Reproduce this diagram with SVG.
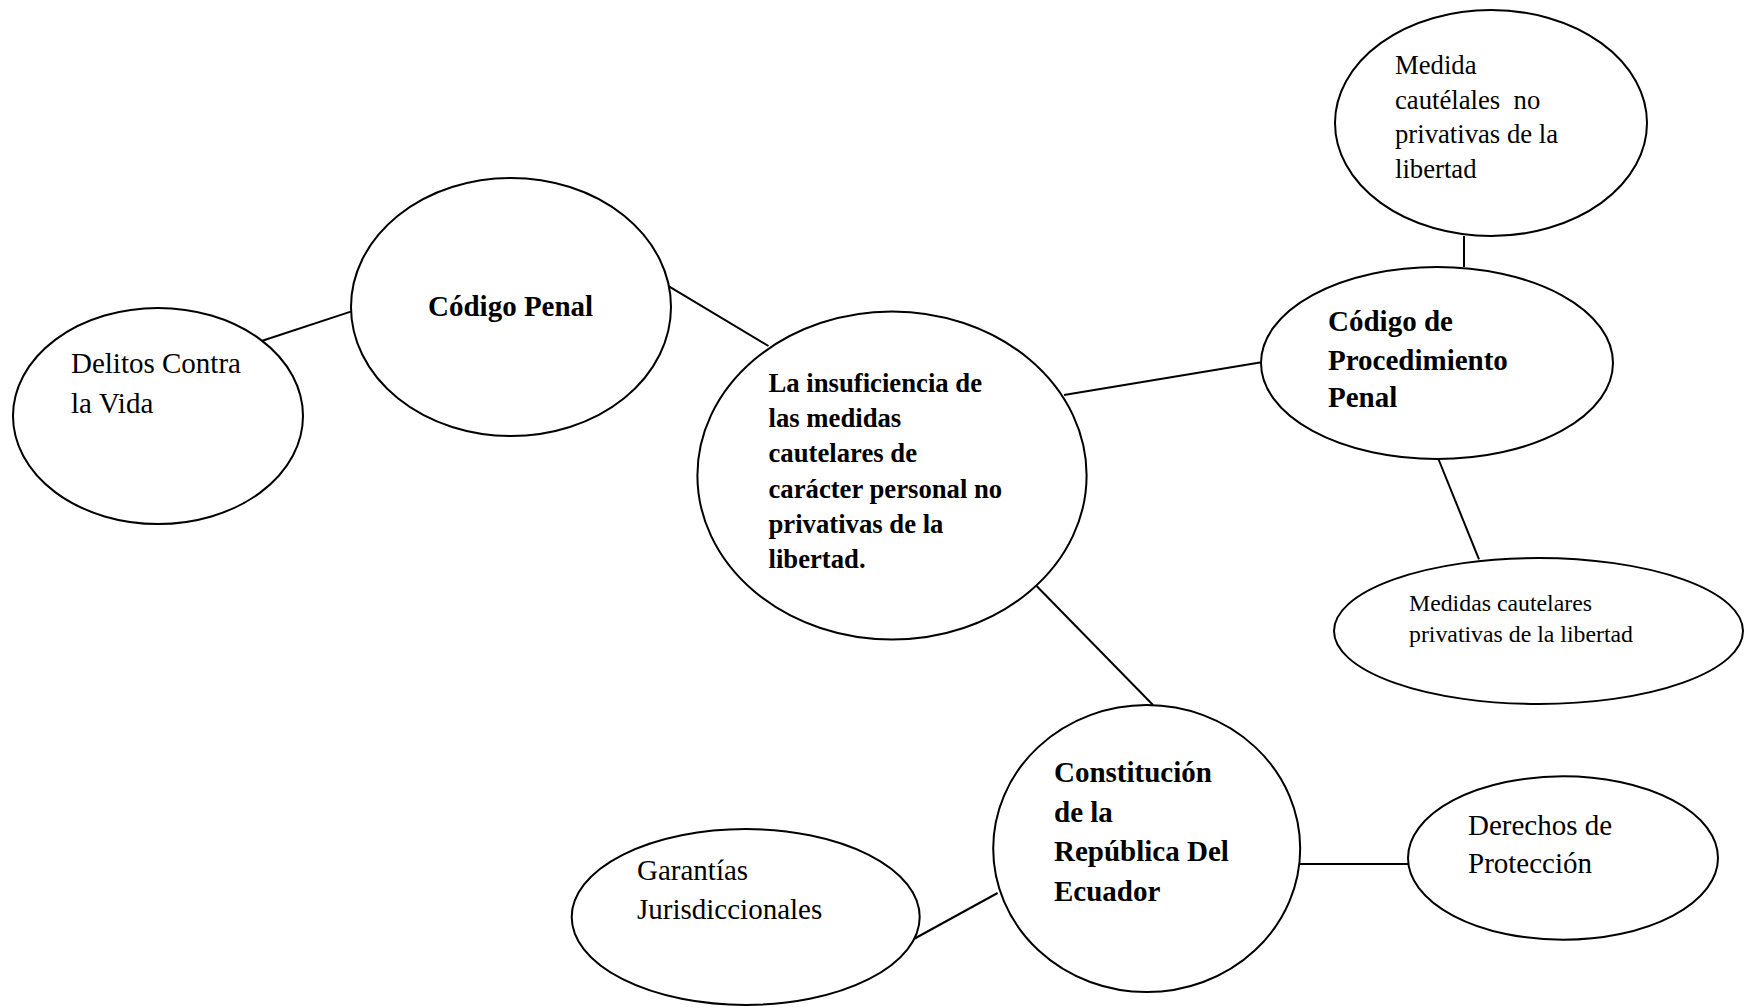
<svg xmlns="http://www.w3.org/2000/svg" width="1744" height="1007" viewBox="0 0 1744 1007">
<style>
.n{fill:#fff;stroke:#000;stroke-width:2}
.c line{stroke:#000;stroke-width:2}
text{font-family:"Liberation Serif","Times New Roman",serif;fill:#000}
.b{font-weight:bold}
</style>
<rect width="1744" height="1007" fill="#fff"/>
<g id="connectors" class="c">
<line x1="260" y1="341.5" x2="351.5" y2="311.4"/>
<line x1="666" y1="284.7" x2="768.5" y2="346"/>
<line x1="1064" y1="395" x2="1260" y2="362.6"/>
<line x1="1464" y1="236" x2="1464" y2="267"/>
<line x1="1438" y1="458" x2="1479" y2="559.4"/>
<line x1="1036.6" y1="586" x2="1153" y2="705"/>
<line x1="997.6" y1="893" x2="912" y2="940"/>
<line x1="1300" y1="864" x2="1408" y2="864"/>
</g>
<g id="delitos">
<ellipse class="n" cx="158" cy="416" rx="145" ry="108"/>
<text x="71" y="373" font-size="29">Delitos Contra</text>
<text x="71" y="413" font-size="29">la Vida</text>
</g>
<g id="codigo-penal">
<ellipse class="n" cx="511" cy="307" rx="160" ry="129"/>
<text class="b" x="428" y="316" font-size="29">Código Penal</text>
</g>
<g id="central">
<ellipse class="n" cx="892" cy="475.5" rx="194.6" ry="164"/>
<text class="b" font-size="26.7">
<tspan x="768.5" y="391.7">La insuficiencia de</tspan>
<tspan x="768.5" y="427">las medidas</tspan>
<tspan x="768.5" y="462.3">cautelares de</tspan>
<tspan x="768.5" y="497.6">carácter personal no</tspan>
<tspan x="768.5" y="532.9">privativas de la</tspan>
<tspan x="768.5" y="568.2">libertad.</tspan>
</text>
</g>
<g id="cpp">
<ellipse class="n" cx="1437" cy="363" rx="176" ry="96"/>
<text class="b" font-size="29">
<tspan x="1328" y="331">Código de</tspan>
<tspan x="1328" y="369.5">Procedimiento</tspan>
<tspan x="1328" y="407">Penal</tspan>
</text>
</g>
<g id="medida-no-privativas">
<ellipse class="n" cx="1491" cy="123" rx="156" ry="113"/>
<text font-size="26.7" xml:space="preserve">
<tspan x="1395" y="74">Medida</tspan>
<tspan x="1395" y="108.5">cautélales  no</tspan>
<tspan x="1395" y="143">privativas de la</tspan>
<tspan x="1395" y="177.5">libertad</tspan>
</text>
</g>
<g id="medidas-privativas">
<ellipse class="n" cx="1538.5" cy="631" rx="204.5" ry="73"/>
<text font-size="23.8">
<tspan x="1409" y="611">Medidas cautelares</tspan>
<tspan x="1409" y="642">privativas de la libertad</tspan>
</text>
</g>
<g id="constitucion">
<ellipse class="n" cx="1146.7" cy="848.6" rx="153.5" ry="143.5"/>
<text class="b" font-size="29">
<tspan x="1054" y="782">Constitución</tspan>
<tspan x="1054" y="822">de la</tspan>
<tspan x="1054" y="861">República Del</tspan>
<tspan x="1054" y="901">Ecuador</tspan>
</text>
</g>
<g id="garantias">
<ellipse class="n" cx="745.7" cy="917" rx="174" ry="88"/>
<text font-size="29">
<tspan x="637" y="880">Garantías</tspan>
<tspan x="637" y="919">Jurisdiccionales</tspan>
</text>
</g>
<g id="derechos">
<ellipse class="n" cx="1563" cy="858" rx="155" ry="81.7"/>
<text font-size="29">
<tspan x="1468" y="835">Derechos de</tspan>
<tspan x="1468" y="873">Protección</tspan>
</text>
</g>
</svg>
